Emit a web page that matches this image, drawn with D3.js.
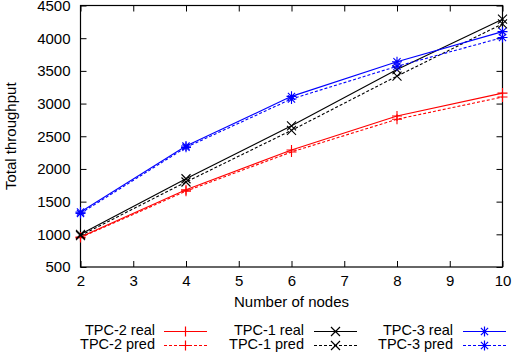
<!DOCTYPE html>
<html>
<head>
<meta charset="utf-8">
<script src="https://cdn.jsdelivr.net/npm/d3@7"></script>
<style>
  html, body { margin: 0; padding: 0; background: #fff; }
  svg { display: block; font-family: "Liberation Sans", Arial, Helvetica, sans-serif; }
</style>
</head>
<body>
<svg id="chart" width="514" height="362"></svg>
<script>
// Node counts on the x axis
const nodes = [2, 4, 6, 8, 10];

// Throughput per configuration: measured vs. predicted
const tpc2Real = [960, 1680, 2290, 2810, 3160];
const tpc2Pred = [950, 1660, 2260, 2760, 3100];
const tpc1Real = [1000, 1850, 2660, 3520, 4290];
const tpc1Pred = [980, 1800, 2590, 3420, 4220];
const tpc3Real = [1340, 2350, 3110, 3640, 4100];
const tpc3Pred = [1320, 2330, 3070, 3570, 4010];

const xTicks = [2, 3, 4, 5, 6, 7, 8, 9, 10];
const yTicks = [500, 1000, 1500, 2000, 2500, 3000, 3500, 4000, 4500];

const seriesList = [
  { name: "TPC-2 real", values: tpc2Real, color: "#ff0000", dashed: false, marker: "plus" },
  { name: "TPC-2 pred", values: tpc2Pred, color: "#ff0000", dashed: true,  marker: "plus" },
  { name: "TPC-1 real", values: tpc1Real, color: "#000000", dashed: false, marker: "cross" },
  { name: "TPC-1 pred", values: tpc1Pred, color: "#000000", dashed: true,  marker: "cross" },
  { name: "TPC-3 real", values: tpc3Real, color: "#0000ff", dashed: false, marker: "star" },
  { name: "TPC-3 pred", values: tpc3Pred, color: "#0000ff", dashed: true,  marker: "star" }
];

const svg = d3.select("#chart");
const plotLeft = 80.5, plotRight = 502.5, plotTop = 5.5, plotBottom = 267;

const x = d3.scaleLinear().domain([2, 10]).range([plotLeft, plotRight]);
const y = d3.scaleLinear().domain([500, 4500]).range([plotBottom, plotTop]);

const fontSize = 15;
const legendFontSize = 14.5;
const tickLen = 6;

// Frame with inward ticks on all four sides
const axisG = svg.append("g");
axisG.append("rect")
  .attr("x", plotLeft).attr("y", plotTop)
  .attr("width", plotRight - plotLeft).attr("height", plotBottom - plotTop)
  .attr("fill", "none").attr("stroke", "#000").attr("stroke-width", 1.2);

const xAxisB = d3.axisBottom(x).tickValues(xTicks).tickFormat(d3.format("d"))
  .tickSizeInner(-tickLen).tickSizeOuter(0).tickPadding(8);
const xAxisT = d3.axisTop(x).tickValues(xTicks).tickSizeInner(-tickLen).tickSizeOuter(0).tickFormat("");
const yAxisL = d3.axisLeft(y).tickValues(yTicks).tickFormat(d3.format("d"))
  .tickSizeInner(-tickLen).tickSizeOuter(0).tickPadding(10);
const yAxisR = d3.axisRight(y).tickValues(yTicks).tickSizeInner(-tickLen).tickSizeOuter(0).tickFormat("");

function styleAxis(g) {
  g.select(".domain").remove();
  g.selectAll(".tick line").attr("stroke", "#000").attr("stroke-width", 1);
  g.selectAll(".tick text").attr("fill", "#000").style("font-size", fontSize + "px")
    .style("font-family", "'Liberation Sans', Arial, sans-serif");
}

axisG.append("g").attr("transform", `translate(0,${plotBottom})`).call(xAxisB).call(styleAxis);
axisG.append("g").attr("transform", `translate(0,${plotTop})`).call(xAxisT).call(styleAxis);
axisG.append("g").attr("transform", `translate(${plotLeft},0)`).call(yAxisL).call(styleAxis);
axisG.append("g").attr("transform", `translate(${plotRight},0)`).call(yAxisR).call(styleAxis);

// Axis titles
svg.append("text")
  .attr("x", (plotLeft + plotRight) / 2).attr("y", 303)
  .attr("text-anchor", "middle").attr("dominant-baseline", "middle")
  .style("font-size", fontSize + "px").text("Number of nodes");

svg.append("text")
  .attr("transform", `translate(12,${(plotTop + plotBottom) / 2}) rotate(-90)`)
  .attr("text-anchor", "middle").attr("dominant-baseline", "middle")
  .style("font-size", fontSize + "px").text("Total throughput");

// Marker glyphs drawn as paths
function markerPath(type, cx, cy) {
  const r = 5, d = 4.5;
  const plus = `M${cx - r},${cy}H${cx + r}M${cx},${cy - r}V${cy + r}`;
  const cross = `M${cx - d},${cy - d}L${cx + d},${cy + d}M${cx - d},${cy + d}L${cx + d},${cy - d}`;
  if (type === "plus") return plus;
  if (type === "cross") return cross;
  const s = 3.6;
  return `M${cx - r},${cy}H${cx + r}M${cx},${cy - r}V${cy + r}` +
         `M${cx - s},${cy - s}L${cx + s},${cy + s}M${cx - s},${cy + s}L${cx + s},${cy - s}`;
}

const line = d3.line().x((d, i) => x(nodes[i])).y(d => y(d));

const plotG = svg.append("g");
seriesList.forEach(s => {
  plotG.append("path")
    .datum(s.values)
    .attr("d", line)
    .attr("fill", "none")
    .attr("stroke", s.color)
    .attr("stroke-width", 1.1)
    .attr("stroke-dasharray", s.dashed ? "3,2" : null);
  plotG.selectAll(null)
    .data(s.values)
    .enter().append("path")
    .attr("d", (d, i) => markerPath(s.marker, x(nodes[i]), y(d)))
    .attr("stroke", s.color)
    .attr("stroke-width", 1.1)
    .attr("fill", "none");
});

// Legend: three columns, two rows
const legendCols = [
  { textRight: 155, lineStart: 164, lineEnd: 207 },
  { textRight: 304, lineStart: 314, lineEnd: 357 },
  { textRight: 453, lineStart: 463, lineEnd: 506 }
];
const legendRows = [331.5, 345.5];

seriesList.forEach((s, i) => {
  const col = legendCols[Math.floor(i / 2)];
  const ly = legendRows[i % 2];
  const lg = svg.append("g");
  lg.append("text")
    .attr("x", col.textRight).attr("y", ly)
    .attr("text-anchor", "end").attr("dominant-baseline", "middle")
    .style("font-size", legendFontSize + "px").text(s.name);
  lg.append("line")
    .attr("x1", col.lineStart).attr("x2", col.lineEnd)
    .attr("y1", ly).attr("y2", ly)
    .attr("stroke", s.color).attr("stroke-width", 1.2)
    .attr("stroke-dasharray", s.dashed ? "3,2" : null);
  lg.append("path")
    .attr("d", markerPath(s.marker, (col.lineStart + col.lineEnd) / 2, ly))
    .attr("stroke", s.color).attr("stroke-width", 1.2).attr("fill", "none");
});
</script>
</body>
</html>
